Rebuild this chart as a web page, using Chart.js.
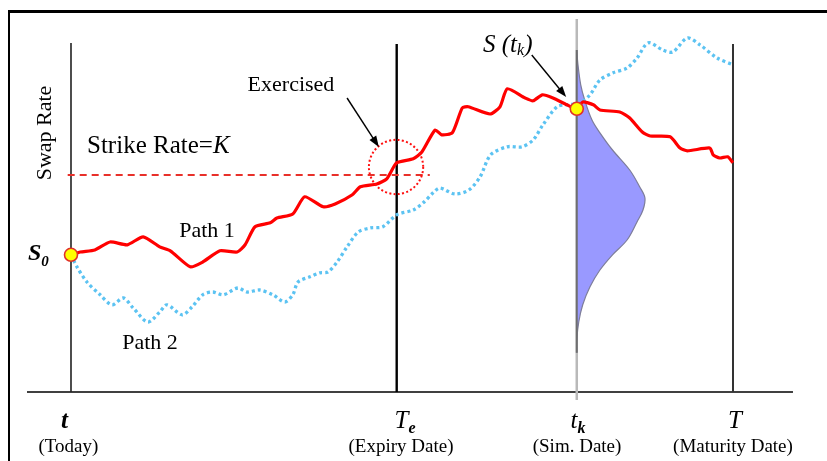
<!DOCTYPE html>
<html><head><meta charset="utf-8">
<script src="https://cdn.jsdelivr.net/npm/chart.js@4.4.0/dist/chart.umd.min.js"></script>
<style>
html,body{margin:0;padding:0;background:#fff;}
#wrap{position:relative;width:827px;height:461px;overflow:hidden;background:#fff;}
canvas{position:absolute;left:0;top:0;}
#frame{position:absolute;left:8px;top:10px;width:900px;height:600px;border-left:2px solid #000;border-top:3px solid #000;pointer-events:none;}
</style></head><body>
<div id="wrap"><canvas id="c" width="827" height="461"></canvas><div id="frame"></div></div>
<script>
// ---------- data (time in years, rate in %) ----------
const eventTimes   = [0, 4.92, 7.64, 10];
const eventSymbols = ['t', 'T', 't', 'T'];
const eventSubs    = ['', 'e', 'k', ''];
const eventNames   = ['(Today)', '(Expiry Date)', '(Sim. Date)', '(Maturity Date)'];
const strikeRate   = 5.425;
const spotRate     = 3.43;

const path1Times = [0,0.14,0.36,0.59,0.85,1.09,1.34,1.50,1.80,1.99,2.25,2.51,2.63,2.78,3.01,3.11,3.35,3.53,3.81,3.99,4.25,4.37,4.62,4.77,4.92,5.17,5.30,5.50,5.60,5.76,5.91,6.00,6.33,6.48,6.59,6.86,6.98,7.12,7.28,7.49,7.64,7.73,7.89,7.99,8.29,8.44,8.63,8.75,9.05,9.20,9.31,9.65,9.70,9.80,9.92,10.0];
const path1Rates = [3.43,3.50,3.55,3.75,3.68,3.88,3.63,3.53,3.13,3.25,3.53,3.50,3.68,4.13,4.23,4.35,4.45,4.88,4.63,4.70,4.93,5.13,5.20,5.33,5.73,5.83,6.00,6.55,6.43,6.48,7.10,7.13,6.95,7.13,7.58,7.35,7.28,7.43,7.35,7.18,7.08,7.25,7.18,7.05,7.00,6.85,6.50,6.40,6.38,6.10,6.03,6.10,5.93,5.85,5.88,5.73];

const path2Times = [0,0.09,0.24,0.44,0.62,0.79,0.94,1.16,1.34,1.45,1.68,1.83,1.99,2.14,2.30,2.52,2.66,2.85,3.05,3.23,3.35,3.43,3.61,3.76,3.88,4.02,4.17,4.34,4.52,4.71,4.92,5.17,5.32,5.47,5.57,5.80,6.01,6.18,6.34,6.59,6.81,6.98,7.13,7.34,7.49,7.69,7.84,7.99,8.19,8.40,8.55,8.72,8.94,9.09,9.31,9.50,9.76,10.0];
const path2Rates = [3.43,3.13,2.75,2.43,2.18,2.35,2.10,1.75,2.00,2.18,1.93,2.13,2.43,2.50,2.43,2.60,2.50,2.55,2.43,2.25,2.43,2.75,2.88,2.98,3.00,3.25,3.63,4.00,4.10,4.13,4.43,4.55,4.73,4.98,5.10,4.95,5.05,5.38,5.93,6.13,6.13,6.30,6.68,7.13,7.18,7.23,7.43,7.80,7.98,8.10,8.35,8.73,8.55,8.50,8.85,8.68,8.35,8.18];

// distribution of S(t_k): rate levels and density (drawn as width in time units)
const densRates  = [8.55,8.23,7.68,7.30,6.80,6.48,6.05,5.55,5.13,4.85,4.55,4.25,3.80,3.43,3.05,2.63,2.18,1.75,1.30,0.98];
const densValues = [0,0.015,0.06,0.12,0.23,0.35,0.54,0.80,0.95,1.03,1.00,0.91,0.76,0.54,0.35,0.20,0.09,0.03,0,0];

// ---------- layout (positions in data units) ----------
const LAYOUT = {
  xRange: [-1.0725, 11.42], yRange: [-1.725, 9.8],
  axis: [-0.665, 10.906],
  lineTops: [8.725, 8.70, 9.325, 8.70], tkBottom: -0.2,
  strikeSpan: [-0.05, 5.42],
  circle: {x: 4.91, y: 5.625, r: 0.41},
  arrows: [[4.17, 7.35, 4.65, 6.125], [6.96, 8.425, 7.48, 7.375]],
  symbolX: [-0.10, 5.045, 7.66, 10.03], symbolY: -0.90,
  nameX: [-0.04, 4.985, 7.644, 10.0], nameY: -1.50
};

const SERIF = '"Liberation Serif","Times New Roman",serif';
const pts = (xs, ys) => xs.map((x, i) => ({x, y: ys[i]}));
const rateAt = (ts, rs, t) => rs[ts.indexOf(t)];

const tk = eventTimes[2];
const densityPts = densRates.map((r, i) => ({x: tk + densValues[i], y: r}));

const datasets = [
  {label:'axis', data:[{x:LAYOUT.axis[0],y:0},{x:LAYOUT.axis[1],y:0}], borderColor:'#000', borderWidth:1.5, order:20},
  {label:'tk line', data:[{x:tk,y:LAYOUT.tkBottom},{x:tk,y:LAYOUT.lineTops[2]}], borderColor:'#b9b9b9', borderWidth:2.5, order:19},
  {label:'density', data:densityPts, borderColor:'#7d7d9a', borderWidth:1.2, backgroundColor:'#9999ff', fill:'shape', tension:0.35, order:18},
  {label:'density edge', data:[{x:tk,y:densRates[densRates.length-1]},{x:tk,y:densRates[0]}], borderColor:'#6f6f6f', borderWidth:2, order:17},
  {label:'t', data:[{x:eventTimes[0],y:0},{x:eventTimes[0],y:LAYOUT.lineTops[0]}], borderColor:'#222', borderWidth:1.6, order:16},
  {label:'Te', data:[{x:eventTimes[1],y:0},{x:eventTimes[1],y:LAYOUT.lineTops[1]}], borderColor:'#000', borderWidth:2.4, order:15},
  {label:'T', data:[{x:eventTimes[3],y:0},{x:eventTimes[3],y:LAYOUT.lineTops[3]}], borderColor:'#333', borderWidth:2, order:14},
  {label:'strike', data:[{x:LAYOUT.strikeSpan[0],y:strikeRate},{x:LAYOUT.strikeSpan[1],y:strikeRate}], borderColor:'#e8302a', borderWidth:2, borderDash:[7,5], order:13},
  {label:'Path 2', data:pts(path2Times, path2Rates), borderColor:'#5cc3f2', borderWidth:3.3, borderDash:[3,3], tension:0.3, order:12},
  {label:'Path 1', data:pts(path1Times, path1Rates), borderColor:'#ff0000', borderWidth:3.2, tension:0.2, borderJoinStyle:'round', order:11},
  {label:'markers', data:[{x:0,y:spotRate},{x:tk,y:rateAt(path1Times,path1Rates,tk)}], showLine:false,
   pointRadius:6.5, pointBackgroundColor:'#ffff00', pointBorderColor:'#e0302a', pointBorderWidth:1.6, order:1}
];
datasets.forEach(d => { if (d.showLine === undefined) d.showLine = true; if (d.pointRadius === undefined) d.pointRadius = 0; if (!d.fill) d.fill = false; });

function runs(ctx, x, y, parts, align) {
  let w = 0;
  parts.forEach(p => { ctx.font = p.f; p.w = ctx.measureText(p.t).width; w += p.w; });
  let cx = align === 'center' ? x - w / 2 : x;
  ctx.textAlign = 'left'; ctx.textBaseline = 'alphabetic';
  parts.forEach(p => { ctx.font = p.f; ctx.fillText(p.t, cx, y + (p.dy || 0)); cx += p.w; });
}
function arrow(ctx, x1, y1, x2, y2) {
  const a = Math.atan2(y2 - y1, x2 - x1), L = 11, W = 4;
  ctx.beginPath(); ctx.moveTo(x1, y1); ctx.lineTo(x2 - L * 0.8 * Math.cos(a), y2 - L * 0.8 * Math.sin(a)); ctx.stroke();
  ctx.beginPath(); ctx.moveTo(x2, y2);
  ctx.lineTo(x2 - L * Math.cos(a) + W * Math.sin(a), y2 - L * Math.sin(a) - W * Math.cos(a));
  ctx.lineTo(x2 - L * Math.cos(a) - W * Math.sin(a), y2 - L * Math.sin(a) + W * Math.cos(a));
  ctx.closePath(); ctx.fill();
}

const annot = {
  id: 'annot',
  afterDatasetsDraw(chart) {
    const ctx = chart.ctx, X = v => chart.scales.x.getPixelForValue(v), Y = v => chart.scales.y.getPixelForValue(v);
    ctx.save();
    // exercised circle
    const c = LAYOUT.circle;
    ctx.beginPath(); ctx.arc(X(c.x), Y(c.y), X(c.x + c.r) - X(c.x), 0, Math.PI * 2);
    ctx.setLineDash([2, 2.3]); ctx.lineWidth = 2; ctx.strokeStyle = '#ff1010'; ctx.stroke(); ctx.setLineDash([]);
    // arrows
    ctx.strokeStyle = '#000'; ctx.fillStyle = '#000'; ctx.lineWidth = 1.4;
    LAYOUT.arrows.forEach(a => arrow(ctx, X(a[0]), Y(a[1]), X(a[2]), Y(a[3])));
    // texts
    ctx.fillStyle = '#000';
    ctx.save(); ctx.translate(X(-0.393), Y(6.475)); ctx.rotate(-Math.PI / 2);
    ctx.font = '22px ' + SERIF; ctx.textAlign = 'center'; ctx.textBaseline = 'middle'; ctx.fillText('Swap Rate', 0, 0); ctx.restore();
    runs(ctx, X(0.242), Y(5.975), [{t:'Strike Rate=', f:'25px ' + SERIF}, {t:'K', f:'italic 25px ' + SERIF}], 'left');
    runs(ctx, X(3.323), Y(7.525), [{t:'Exercised', f:'22px ' + SERIF}], 'center');
    runs(ctx, X(2.054), Y(3.875), [{t:'Path 1', f:'22px ' + SERIF}], 'center');
    runs(ctx, X(1.193), Y(1.075), [{t:'Path 2', f:'22px ' + SERIF}], 'center');
    runs(ctx, X(-0.65), Y(3.30), [{t:'S', f:'italic bold 24px ' + SERIF}, {t:'0', f:'italic bold 15px ' + SERIF, dy:6}], 'left');
    runs(ctx, X(6.224), Y(8.50), [{t:'S', f:'italic 25px ' + SERIF}, {t:' (t', f:'italic 25px ' + SERIF}, {t:'k', f:'italic 16px ' + SERIF, dy:3}, {t:')', f:'italic 25px ' + SERIF}], 'left');
    eventTimes.forEach((t, i) => {
      const parts = [{t: eventSymbols[i], f: (i === 0 ? 'italic bold 25px ' : 'italic 25px ') + SERIF}];
      if (eventSubs[i]) parts.push({t: eventSubs[i], f: 'italic bold 16px ' + SERIF, dy: 5});
      runs(ctx, X(LAYOUT.symbolX[i]), Y(LAYOUT.symbolY), parts, 'center');
      runs(ctx, X(LAYOUT.nameX[i]), Y(LAYOUT.nameY), [{t: eventNames[i], f: '19px ' + SERIF}], 'center');
    });
    ctx.restore();
  }
};

new Chart(document.getElementById('c'), {
  type: 'scatter',
  data: {datasets},
  options: {
    responsive: false, animation: false, maintainAspectRatio: false,
    layout: {padding: 0, autoPadding: false},
    plugins: {legend: {display: false}, tooltip: {enabled: false}},
    scales: {
      x: {type: 'linear', min: LAYOUT.xRange[0], max: LAYOUT.xRange[1], display: false},
      y: {type: 'linear', min: LAYOUT.yRange[0], max: LAYOUT.yRange[1], display: false}
    }
  },
  plugins: [annot]
});
</script>
</body></html>
